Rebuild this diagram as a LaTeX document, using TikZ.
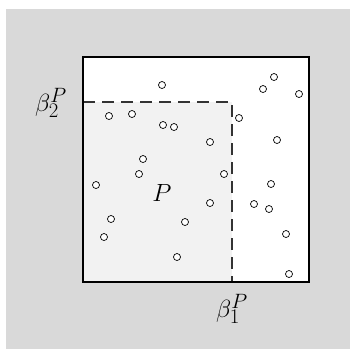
\documentclass[tikz,border=0pt]{standalone}
\begin{document}
\begin{tikzpicture}[x=1pt,y=-1pt,
  pt/.style={circle,draw=black,fill=white,line width=0.7pt,minimum size=7pt,inner sep=0pt},
  lab/.style={inner sep=0pt,font=\fontsize{28}{34}\selectfont},
  frame/.style={draw=black,line width=1.4pt},
  dashline/.style={draw=black!80,line width=1.3pt,dash pattern=on 12pt off 7pt}]
\useasboundingbox (0,0) rectangle (350,349);
\fill[white] (0,0) rectangle (350,349);
\fill[black!15] (6,9) rectangle (350,349);
\fill[white] (83,57) rectangle (309,282);
\fill[black!5] (83,102) rectangle (232,282);
\coordinate (tl) at (83,102);
\coordinate (tr) at (232,102);
\coordinate (br) at (232,282);
\draw[dashline] (tl) -- (tr) -- (br);
\draw[frame] (83,57) rectangle (309,282);
\node[lab] (b2) at (51,103) {$\beta_2^P$};
\node[lab] (b1) at (232,309) {$\beta_1^P$};
\node[lab] (P) at (162,193) {$P$};
\foreach \x/\y [count=\i] in {162/85,274/77,263/89,299/94,109/116,132/114,239/118,163/125,174/127,210/142,277/140,143/159,139/174,224/174,96/185,271/184,210/203,254/204,269/209,111/219,185/222,104/237,286/234,177/257,289/274}
  \node[pt] (p\i) at (\x,\y) {};
\end{tikzpicture}
\end{document}
